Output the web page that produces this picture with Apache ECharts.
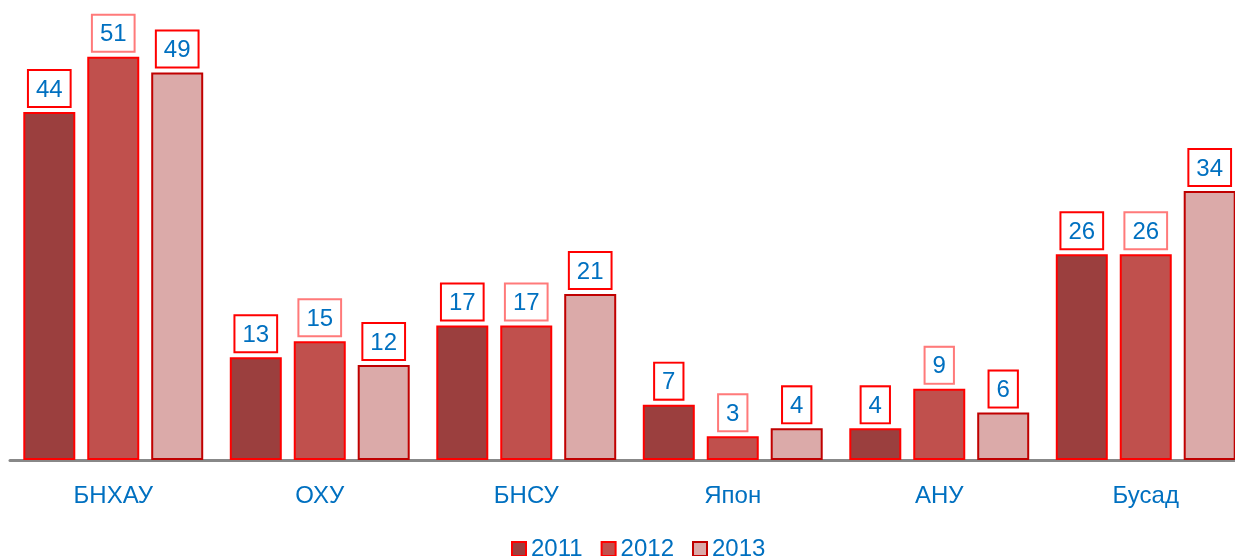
<!DOCTYPE html>
<html>
<head>
<meta charset="utf-8">
<script src="https://cdn.jsdelivr.net/npm/echarts@6/dist/echarts.min.js"></script>
<style>
  html, body { margin: 0; padding: 0; background: #fff; }
  #chart { width: 1235px; height: 556px; }
</style>
</head>
<body>
<div id="chart"></div>
<script>
const categories = ['БНХАУ', 'ОХУ', 'БНСУ', 'Япон', 'АНУ', 'Бусад']
const years = ['2011', '2012', '2013']
const data2011 = [44, 13, 17, 7, 4, 26]
const data2012 = [51, 15, 17, 3, 9, 26]
const data2013 = [49, 12, 21, 4, 6, 34]

const fills = ['#9b3f3e', '#c0504d', '#dbaaa9']
const borders = ['#ff0000', '#ff0000', '#c00000']
const labelBorders = ['#ff0000', '#ff7a7a', '#ff0000']
const blue = '#0070c0'

const chart = echarts.init(document.getElementById('chart'))

function makeSeries(name, values, i) {
  return {
    name: name,
    type: 'bar',
    data: values,
    barWidth: 52,
    barGap: '23%',
    itemStyle: {
      color: fills[i],
      borderColor: borders[i],
      borderWidth: 2
    },
    label: {
      show: true,
      position: 'top',
      distance: 6,
      color: blue,
      fontSize: 24,
      fontFamily: 'Liberation Sans',
      backgroundColor: '#fff',
      borderColor: labelBorders[i],
      borderWidth: 2,
      padding: [7, 7, 4, 7]
    },
    animation: false
  }
}

chart.setOption({
  grid: {
    left: 10,
    right: -14,
    top: 25,
    bottom: 96,
    outerBoundsMode: 'none'
  },
  legend: {
    bottom: -10,
    left: 506,
    icon: 'rect',
    itemWidth: 14,
    itemHeight: 14,
    itemGap: 18,
    textStyle: {
      color: blue,
      fontSize: 24,
      fontFamily: 'Liberation Sans'
    },
    data: years
  },
  xAxis: {
    type: 'category',
    data: categories,
    axisLine: { lineStyle: { color: '#888', width: 3 } },
    axisTick: { show: false },
    axisLabel: {
      color: blue,
      fontSize: 24,
      margin: 24,
      fontFamily: 'Liberation Sans'
    }
  },
  yAxis: {
    type: 'value',
    min: 0,
    max: 55,
    show: false,
    splitLine: { show: false }
  },
  series: [
    makeSeries(years[0], data2011, 0),
    makeSeries(years[1], data2012, 1),
    makeSeries(years[2], data2013, 2)
  ]
})
</script>
</body>
</html>
